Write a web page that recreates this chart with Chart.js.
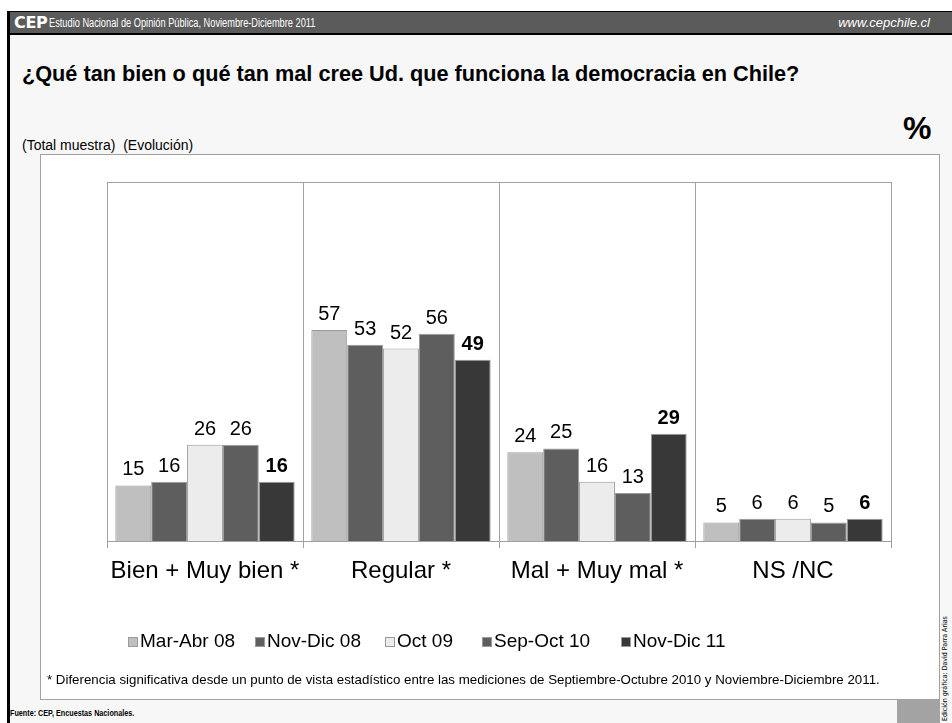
<!DOCTYPE html>
<html>
<head>
<meta charset="utf-8">
<script src="https://cdn.jsdelivr.net/npm/chart.js@4.4.1/dist/chart.umd.min.js"></script>
<style>
  html, body { margin: 0; padding: 0; width: 952px; height: 723px; overflow: hidden; background: #ffffff; font-family: "Liberation Sans", Arial, sans-serif; }
  #frame { position: absolute; left: 7px; top: 11px; width: 945px; height: 712px; background: #f7f7f7; border-left: 3px solid #000; border-top: 1px solid #000; box-sizing: border-box; }
  #hdr { position: absolute; left: 10px; top: 12px; width: 942px; height: 21px; background: #5b5b5b; border-bottom: 2px solid #000; }
  #cep { position: absolute; left: 14px; top: 14px; color: #fff; font-weight: bold; font-size: 16px; line-height: 18px; letter-spacing: -0.3px; font-family: "DejaVu Sans", "Liberation Sans", sans-serif; }
  #hdrtxt { position: absolute; left: 49px; top: 16px; color: #fff; font-size: 12px; line-height: 15px; white-space: nowrap; transform-origin: 0 0; transform: scaleX(0.77); }
  #url { position: absolute; right: 22px; top: 15px; color: #fff; font-size: 13px; line-height: 16px; font-style: italic; }
  #title { position: absolute; left: 22px; top: 61px; font-size: 21.7px; font-weight: bold; color: #000; white-space: nowrap; }
  #sub { position: absolute; left: 22px; top: 137px; font-size: 14px; color: #000; white-space: pre; }
  #box { position: absolute; left: 40px; top: 154px; width: 900px; height: 546px; background: #fff; border: 1px solid #a0a0a0; box-sizing: border-box; }
  #cwrap { position: absolute; left: 40px; top: 154px; width: 900px; height: 546px; }
  #pct { position: absolute; left: 903px; top: 110px; font-size: 32px; font-weight: bold; color: #000; }
  #note { position: absolute; left: 47px; top: 672px; font-size: 13.3px; color: #000; white-space: nowrap; }
  #fuente { position: absolute; left: 10px; top: 707px; font-size: 9.5px; font-weight: bold; color: #000; white-space: nowrap; transform-origin: 0 0; transform: scaleX(0.76); }
  #gray { position: absolute; left: 897px; top: 700px; width: 43px; height: 23px; background: #a3a3a3; }
  #edit { position: absolute; left: 941px; top: 721px; font-size: 7px; color: #000; white-space: nowrap; transform-origin: 0 0; transform: rotate(-90deg); font-family: "DejaVu Sans Condensed", "Liberation Sans", sans-serif; }
</style>
</head>
<body>
<div id="frame"></div>
<div id="hdr"></div>
<div id="cep">CEP</div>
<div id="hdrtxt">Estudio Nacional de Opinión Pública, Noviembre-Diciembre 2011</div>
<div id="url">www.cepchile.cl</div>
<div id="title">¿Qué tan bien o qué tan mal cree Ud. que funciona la democracia en Chile?</div>
<div id="sub">(Total muestra)  (Evolución)</div>
<div id="box"></div>
<div id="cwrap"><canvas id="c" width="900" height="546"></canvas></div>
<div id="pct">%</div>
<div id="note">* Diferencia significativa desde un punto de vista estadístico entre las mediciones de Septiembre-Octubre 2010 y Noviembre-Diciembre 2011.</div>
<div id="fuente">Fuente: CEP, Encuestas Nacionales.</div>
<div id="gray"></div>
<div id="edit">Edición gráfica: David Parra Arias</div>
<script>
const categories = ["Bien + Muy bien *", "Regular *", "Mal + Muy mal *", "NS /NC"];
const seriesNames = ["Mar-Abr 08", "Nov-Dic 08", "Oct 09", "Sep-Oct 10", "Nov-Dic 11"];
const marAbr08 = [15, 57, 24, 5];
const novDic08 = [16, 53, 25, 6];
const oct09    = [26, 52, 16, 6];
const sepOct10 = [26, 56, 13, 5];
const novDic11 = [16, 49, 29, 6];
const seriesColors = ["#bfbfbf", "#5e5e5e", "#ececec", "#5e5e5e", "#383838"];
const seriesValues = [marAbr08, novDic08, oct09, sepOct10, novDic11];

const datasets = seriesNames.map((name, i) => ({
  label: name,
  data: seriesValues[i],
  backgroundColor: seriesColors[i],
  borderColor: "#9a9a9a",
  borderWidth: 1,
  categoryPercentage: 0.915,
  barPercentage: 1.0
}));

const FONT = '"Liberation Sans", Arial, sans-serif';

const frameAndLabels = {
  id: "frameAndLabels",
  afterDatasetsDraw(chart) {
    const ctx = chart.ctx;
    const a = chart.chartArea;
    ctx.save();
    ctx.strokeStyle = "#a0a0a0";
    ctx.lineWidth = 1;
    ctx.beginPath();
    ctx.moveTo(a.left, a.top + 0.5);
    ctx.lineTo(a.right, a.top + 0.5);
    ctx.stroke();
    ctx.fillStyle = "#000";
    ctx.textAlign = "center";
    ctx.textBaseline = "alphabetic";
    chart.data.datasets.forEach((ds, di) => {
      const meta = chart.getDatasetMeta(di);
      ctx.font = (di === chart.data.datasets.length - 1 ? "bold " : "") + "20px " + FONT;
      meta.data.forEach((el, i) => {
        ctx.fillText(String(ds.data[i]), el.x, el.y - 10);
      });
    });
    // legend
    const legendY = 488;
    const legendX = [88, 215, 345, 442, 581];
    ctx.font = "19px " + FONT;
    ctx.textAlign = "left";
    ctx.textBaseline = "middle";
    chart.data.datasets.forEach((ds, di) => {
      const x = legendX[di];
      ctx.fillStyle = ds.backgroundColor;
      ctx.fillRect(x, legendY - 5, 10, 10);
      ctx.strokeStyle = "#9a9a9a";
      ctx.strokeRect(x + 0.5, legendY - 4.5, 9, 9);
      ctx.fillStyle = "#000";
      ctx.fillText(ds.label, x + 12, legendY);
    });
    ctx.restore();
  }
};

new Chart(document.getElementById("c"), {
  type: "bar",
  data: { labels: categories, datasets },
  options: {
    responsive: false,
    animation: false,
    layout: { padding: { left: 67, right: 49, top: 28, bottom: 99 } },
    plugins: { legend: { display: false }, tooltip: { enabled: false } },
    scales: {
      x: {
        grid: { display: true, color: "#a0a0a0", lineWidth: 1, tickLength: 7, offset: true, drawOnChartArea: true },
        border: { display: true, color: "#a0a0a0" },
        ticks: { color: "#000", font: { family: FONT, size: 24 }, padding: 9, maxRotation: 0 },
        afterFit(scale) { scale.height = 60; }
      },
      y: { display: false, min: 0, max: 97 }
    }
  },
  plugins: [frameAndLabels]
});
</script>
</body>
</html>
